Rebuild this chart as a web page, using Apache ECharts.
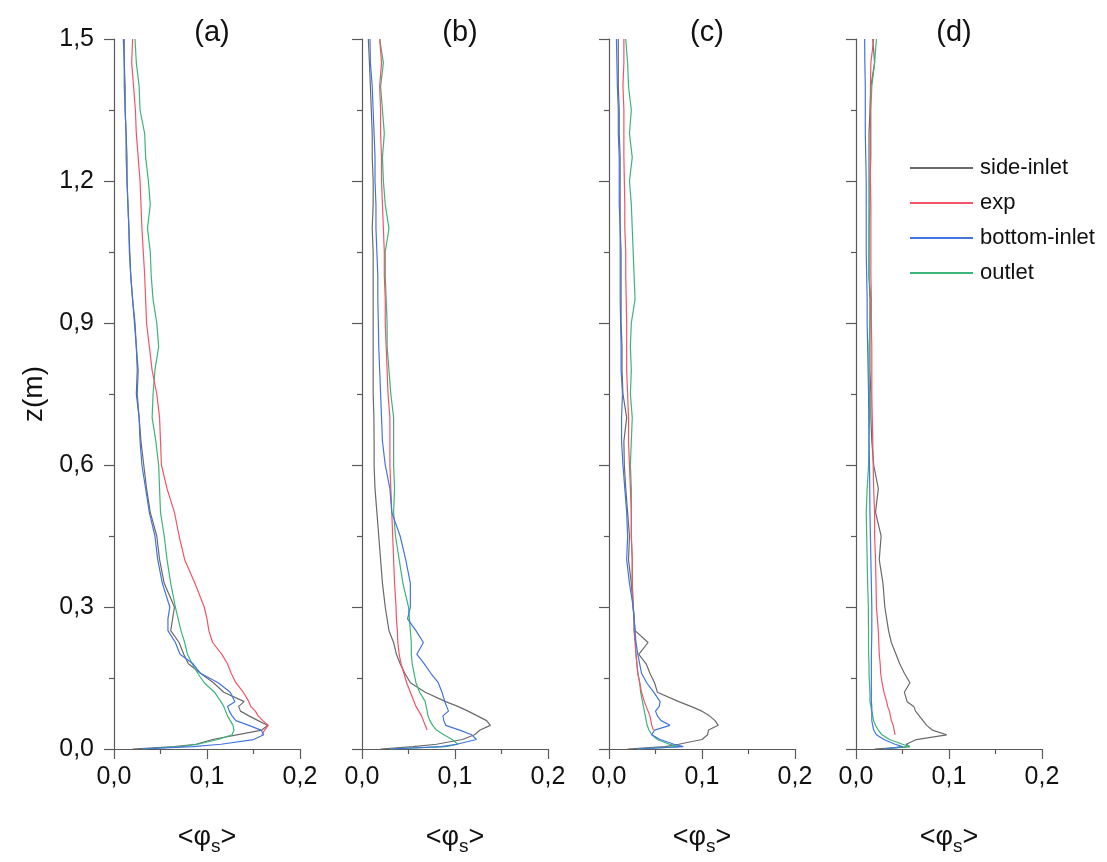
<!DOCTYPE html>
<html>
<head>
<meta charset="utf-8">
<script src="https://cdn.jsdelivr.net/npm/echarts@6/dist/echarts.min.js"></script>
<style>
html,body{margin:0;padding:0;background:#fff;}
#chart{width:1107px;height:862px;}
</style>
</head>
<body>
<div id="chart"></div>
<script>
// z (m) levels shared by all profiles
const zLevels = [1.5,1.45,1.4,1.35,1.3,1.25,1.2,1.15,1.1,1.05,1.0,0.95,0.9,0.85,0.8,0.75,0.7,0.65,0.6,0.55,0.5,0.45,0.4,0.35,0.3,0.275,0.25,0.225,0.2,0.18,0.16,0.14,0.12,0.1,0.09,0.08,0.07,0.06,0.05,0.04,0.03,0.02,0.01,0.005,0];

const panelTitles = ['(a)','(b)','(c)','(d)'];
const seriesNames = ['side-inlet','exp','bottom-inlet','outlet'];
const xTicks = [0, 0.1, 0.2];
const yTicks = [0, 0.3, 0.6, 0.9, 1.2, 1.5];

// panel (a)
const aSide   = [.011,.011,.012,.012,.013,.014,.014,.015,.016,.017,.018,.020,.022,.024,.025,.024,.027,.029,.032,.035,.039,.046,.049,.054,.065,.063,.061,.070,.075,.080,.093,.107,.118,.140,.134,.136,.145,.155,.165,.159,.132,.106,.088,.065,.02];
const aExp    = [.020,.019,.021,.023,.024,.026,.028,.029,.030,.0315,.033,.034,.035,.038,.041,.046,.049,.050,.051,.057,.065,.070,.076,.087,.097,.100,.102,.106,.116,.122,.126,.131,.139,.145,.147,.152,.155,.160,.166,.162,.159,null,null,null,null];
const aBottom = [.010,.011,.011,.012,.013,.013,.014,.015,.016,.0165,.018,.020,.0226,.024,.026,.025,.027,.028,.030,.034,.038,.044,.047,.052,.060,.058,.058,.066,.071,.085,.093,.112,.125,.130,.122,.124,.127,.131,.145,.158,.161,.150,.115,.085,.03];
const aOutlet = [.0226,.024,.027,.028,.033,.034,.037,.039,.036,.039,.040,.042,.046,.048,.044,.042,.041,.045,.048,.049,.050,.054,.057,.061,.066,.069,.072,.076,.079,.084,.090,.097,.108,.115,.118,.120,.122,.125,.128,.129,.127,.112,.090,.072,.03];
// panel (b)
const bSide   = [.0068,.008,.009,.010,.011,.011,.012,.012,.011,.012,.012,.012,.012,.012,.012,.012,.0128,.013,.013,.014,.016,.018,.020,.022,.025,.027,.029,.034,.037,.041,.046,.052,.068,.090,.103,.114,.124,.134,.138,.127,.121,.108,.080,.055,.02];
const bExp    = [.019,.021,.019,.020,.020,.021,.021,.022,.023,.024,.024,.025,.025,.026,.027,.028,.030,.030,.030,.031,.032,.033,.034,.035,.0366,.037,.038,.0385,.040,.042,.045,.048,.052,.056,.058,.061,.064,.066,.068,.070,null,null,null,null,null];
const bBottom = [.0086,.009,.011,.012,.013,.014,.014,.015,.015,.016,.017,.017,.0176,.018,.019,.020,.021,.022,.025,.030,.032,.041,.047,.052,.052,.049,.058,.066,.059,.067,.074,.082,.086,.089,.091,.093,.087,.088,.090,.105,.118,.123,.102,.085,.03];
const bOutlet = [.019,.023,.020,.022,.024,.022,.023,.025,.029,.025,.025,.026,.027,.027,.029,.031,.034,.034,.034,.035,.034,.036,.040,.044,.050,.051,.052,.053,.053,.054,.056,.058,.062,.068,.069,.070,.071,.073,.076,.080,.088,.097,.103,.090,.03];
// panel (c)
const cSide   = [.010,.010,.010,.011,.011,.012,.012,.012,.012,.013,.013,.013,.013,.014,.014,.015,.019,.016,.0165,.018,.020,.022,.021,.024,.026,.027,.028,.042,.032,.040,.044,.049,.052,.075,.088,.100,.108,.114,.1175,.107,.106,.100,.075,.060,.02];
const cExp    = [.016,.016,.015,.016,.016,.016,.0165,.017,.017,.018,.018,.0185,.019,.019,.019,.020,.021,.021,.022,.023,.024,.024,.025,.025,.026,.027,.027,.028,.029,.030,.031,.033,.035,.038,.040,.042,.044,.045,.046,.0477,null,null,null,null,null];
const cBottom = [.008,.0085,.009,.010,.010,.011,.011,.011,.012,.012,.012,.012,.0125,.013,.013,.0145,.0135,.0135,.015,.017,.019,.020,.019,.022,.026,.027,.028,.029,.031,.033,.035,.0405,.048,.055,.054,.050,.052,.056,.0656,.049,.046,.055,.070,.080,.03];
const cOutlet = [.018,.020,.021,.024,.022,.025,.022,.024,.025,.026,.027,.028,.024,.023,.024,.023,.025,.024,.023,.024,.024,.024,.025,.025,.026,.027,.027,.0285,.029,.030,.031,.033,.034,.036,.037,.038,.039,.040,.041,.043,.046,.052,.065,.075,.03];
// panel (d)
const dSide   = [.018,.020,.016,.015,.014,.014,.014,.014,.014,.014,.014,.015,.015,.015,.015,.016,.016,.017,.019,.024,.021,.027,.025,.029,.031,.033,.035,.038,.043,.047,.052,.058,.052,.055,.062,.064,.068,.072,.076,.082,.0975,.065,.054,.058,.02];
const dExp    = [.019,.016,.0155,.0155,.0155,.0155,.0155,.016,.016,.016,.016,.0165,.0165,.017,.017,.017,.0175,.018,.0185,.019,.020,.020,.021,.0215,.022,.023,.024,.0245,.025,.026,.0265,.028,.030,.033,.034,.036,.037,.038,.040,.041,.042,null,null,null,null];
const dBottom = [.0093,.0095,.010,.010,.010,.0105,.011,.011,.011,.011,.0115,.012,.012,.0125,.013,.0135,.0137,.014,.0145,.0148,.015,.0155,.016,.0165,.017,.017,.017,.0168,.0165,.0165,.0165,.0165,.0165,.0165,.017,.017,.017,.017,.018,.019,.022,.030,.042,.050,.03];
const dOutlet = [.022,.020,.017,.016,.016,.016,.015,.015,.014,.014,.014,.016,.015,.014,.014,.0145,.0145,.014,.0135,.012,.011,.0115,.012,.0125,.0133,.0133,.0135,.0135,.0135,.014,.014,.0145,.015,.015,.016,.017,.018,.019,.021,.024,.028,.036,.050,.058,.03];

const panels = [
  {'side-inlet': aSide, 'exp': aExp, 'bottom-inlet': aBottom, 'outlet': aOutlet},
  {'side-inlet': bSide, 'exp': bExp, 'bottom-inlet': bBottom, 'outlet': bOutlet},
  {'side-inlet': cSide, 'exp': cExp, 'bottom-inlet': cBottom, 'outlet': cOutlet},
  {'side-inlet': dSide, 'exp': dExp, 'bottom-inlet': dBottom, 'outlet': dOutlet}
];

const colors = {'side-inlet':'#6a6a6a','exp':'#f25468','bottom-inlet':'#4275e0','outlet':'#3cb47a'};
const drawOrder = ['side-inlet','outlet','exp','bottom-inlet'];
const gridLeft = [114, 362, 609, 856];
const gridW = 186, gridTop = 39, gridH = 710;
const FONT = 'Liberation Sans, Arial, sans-serif';
const axisColor = '#5a5a5a';
const fmt = v => v.toFixed(1).replace('.', ',');

const grids = [], xAxes = [], yAxes = [], series = [], titles = [];
gridLeft.forEach((L, i) => {
  grids.push({left: L, top: gridTop, width: gridW, height: gridH, containLabel: false});
  titles.push({text: panelTitles[i], left: L + gridW / 2, top: 13, textAlign: 'center',
    textStyle: {fontFamily: FONT, fontSize: 29, fontWeight: 'normal', color: '#111'}});
  xAxes.push({
    type: 'value', gridIndex: i, min: xTicks[0], max: xTicks[xTicks.length - 1], interval: 0.1,
    axisLine: {show: true, lineStyle: {color: axisColor, width: 1.2}},
    axisTick: {show: true, length: 10, lineStyle: {color: axisColor, width: 1.2}},
    minorTick: {show: true, splitNumber: 2, length: 5, lineStyle: {color: axisColor, width: 1.2}},
    splitLine: {show: false}, minorSplitLine: {show: false},
    axisLabel: {fontFamily: FONT, fontSize: 25, color: '#111', margin: 16, formatter: fmt,
      showMinLabel: true, showMaxLabel: true, hideOverlap: false},
    name: '{t|<φ}{s|s}{t|>}', nameLocation: 'middle', nameGap: 70,
    nameTextStyle: {rich: {
      t: {fontFamily: FONT, fontSize: 27, color: '#111'},
      s: {fontFamily: FONT, fontSize: 19, color: '#111', verticalAlign: 'bottom', padding: [18, 0, 0, 0]}
    }}
  });
  yAxes.push({
    type: 'value', gridIndex: i, min: yTicks[0], max: yTicks[yTicks.length - 1], interval: 0.3,
    axisLine: {show: true, lineStyle: {color: axisColor, width: 1.2}},
    axisTick: {show: true, length: 10, lineStyle: {color: axisColor, width: 1.2}},
    minorTick: {show: true, splitNumber: 2, length: 5, lineStyle: {color: axisColor, width: 1.2}},
    splitLine: {show: false}, minorSplitLine: {show: false},
    axisLabel: {show: i === 0, fontFamily: FONT, fontSize: 25, color: '#111', margin: 20, formatter: fmt},
    name: i === 0 ? 'z(m)' : '', nameLocation: 'middle', nameRotate: 90, nameGap: 66,
    nameTextStyle: {fontFamily: FONT, fontSize: 28, color: '#111'}
  });
  drawOrder.forEach(name => {
    const vals = panels[i][name];
    const data = [];
    zLevels.forEach((z, k) => { if (vals[k] !== null && vals[k] !== undefined) data.push([vals[k], z]); });
    series.push({
      name: name, type: 'line', xAxisIndex: i, yAxisIndex: i, data: data,
      showSymbol: false, symbol: 'none', animation: false, silent: true,
      lineStyle: {color: colors[name], width: 1.2}, itemStyle: {color: colors[name]}
    });
  });
});

const chart = echarts.init(document.getElementById('chart'), null, {renderer: 'canvas'});
chart.setOption({
  backgroundColor: '#ffffff',
  animation: false,
  textStyle: {fontFamily: FONT},
  title: titles,
  legend: {
    data: seriesNames, orient: 'vertical', left: 910, top: 157, padding: 0,
    icon: 'rect', itemWidth: 63, itemHeight: 2, itemGap: 13,
    textStyle: {fontFamily: FONT, fontSize: 22, color: '#111', padding: [0, 0, 0, 2]},
    selectedMode: false
  },
  grid: grids, xAxis: xAxes, yAxis: yAxes, series: series
});
</script>
</body>
</html>
